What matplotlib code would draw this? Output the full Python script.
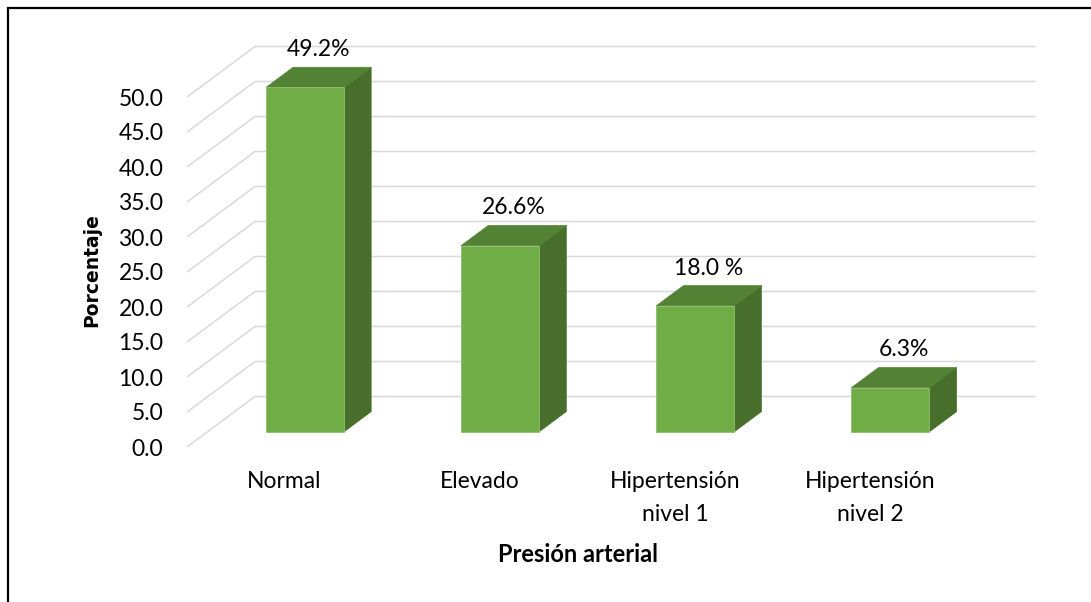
import matplotlib
matplotlib.use("Agg")
import matplotlib.pyplot as plt
from matplotlib.patches import Polygon, Rectangle
import numpy as np

# Data
categories = ["Normal", "Elevado", "Hipertensión\nnivel 1", "Hipertensión\nnivel 2"]
percentages = [49.2, 26.6, 18.0, 6.3]
value_labels = ["49.2%", "26.6%", "18.0 %", "6.3%"]
y_ticks = [0, 5, 10, 15, 20, 25, 30, 35, 40, 45, 50]
y_tick_labels = [f"{t:.1f}" for t in y_ticks]

# Styling
FONT = "Lato"
FS = 16.5
FRONT = "#70AD47"
TOP = "#548235"
SIDE = "#476F2B"
GRID = "#D9D9D9"

W, H, DPI = 1091, 602, 100
fig = plt.figure(figsize=(W / DPI, H / DPI), dpi=DPI)
fig.patch.set_facecolor("white")

# Front plane of the 3-D box (pixel extents of the chart floor)
left_px, right_px = 187, 967.5
zero_px, top_px = 447, 97
ax = fig.add_axes([left_px / W, 1 - zero_px / H,
                   (right_px - left_px) / W, (zero_px - top_px) / H])
ax.set_xlim(-0.5, 3.5)
ax.set_ylim(0, 50)
ax.set_facecolor("none")
for s in ax.spines.values():
    s.set_visible(False)

# Depth vector of the oblique projection, in data units
px_per_cat = (right_px - left_px) / 4.0
px_per_val = (zero_px - top_px) / 50.0
DX = 68 / px_per_cat
DY = 50.5 / px_per_val

# Gridlines: diagonal on the left wall, horizontal on the back wall
for t in y_ticks:
    ax.plot([-0.5, -0.5 + DX, 3.5 + DX], [t, t + DY, t + DY],
            color=GRID, lw=1.1, clip_on=False, zorder=1,
            solid_capstyle="butt")

# Bars as prisms occupying the middle of the depth
bar_w = 78 / px_per_cat
d0, d1 = 0.3, 0.7
x = np.arange(len(categories))
fx = x + d0 * DX
ax.bar(fx, percentages, width=bar_w, bottom=d0 * DY, color=FRONT,
       edgecolor="#8BC06A", linewidth=0.6, zorder=4, clip_on=False)
dd = d1 - d0
for xc, v in zip(fx, percentages):
    xl, xr = xc - bar_w / 2, xc + bar_w / 2
    yb, yt = d0 * DY, v + d0 * DY
    side = Polygon([(xr, yb), (xr + dd * DX, yb + dd * DY),
                    (xr + dd * DX, yt + dd * DY), (xr, yt)],
                   closed=True, facecolor=SIDE, edgecolor=SIDE,
                   linewidth=0.5, zorder=3, clip_on=False)
    top = Polygon([(xl, yt), (xr, yt), (xr + dd * DX, yt + dd * DY),
                   (xl + dd * DX, yt + dd * DY)],
                  closed=True, facecolor=TOP, edgecolor=TOP,
                  linewidth=0.5, zorder=3, clip_on=False)
    ax.add_patch(side)
    ax.add_patch(top)

# Value labels above the bars
for xi, v, lab in zip(x, percentages, value_labels):
    ax.annotate(lab, xy=(xi + 0.5 * DX, v + d1 * DY), xytext=(0, 8),
                textcoords="offset points", ha="center", va="baseline",
                fontsize=FS, family=FONT, color="black", zorder=6,
                annotation_clip=False)

# Axes ticks
ax.set_yticks(y_ticks)
ax.set_yticklabels(y_tick_labels, family=FONT, fontsize=FS)
ax.tick_params(axis="y", length=0, pad=17)
ax.set_xticks(x)
ax.set_xticklabels(categories, family=FONT, fontsize=FS, linespacing=1.7)
ax.tick_params(axis="x", length=0, pad=17)

# Axis titles
fig.text(577.6 / W, 1 - 554.7 / H, "Presión arterial", ha="center",
         va="center", fontsize=17, fontweight="bold", family=FONT)
fig.text(91.5 / W, 1 - 270 / H, "Porcentaje", ha="center", va="center",
         rotation=90, fontsize=13.5, fontweight="bold", family="DejaVu Sans")

# Chart frame
fig.patches.append(Rectangle((8 / W, -0.2), 1.2, 1.2 - 8.5 / H,
                             transform=fig.transFigure, fill=False,
                             edgecolor="black", linewidth=1.6, zorder=10))

fig.savefig("out.png", dpi=DPI, facecolor="white")
